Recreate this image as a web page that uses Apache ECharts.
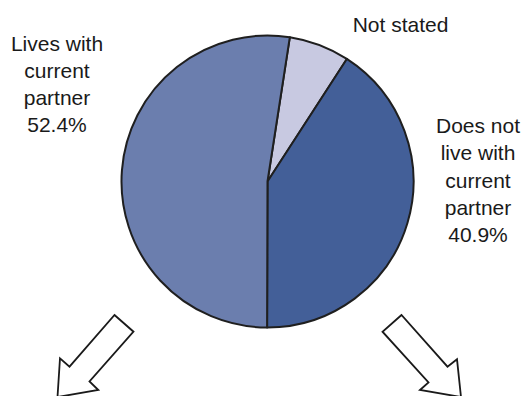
<!DOCTYPE html>
<html>
<head>
<meta charset="utf-8">
<script src="https://cdn.jsdelivr.net/npm/echarts@6/dist/echarts.min.js"></script>
<style>html,body{margin:0;padding:0;background:#fff;}#c{width:525px;height:396px;}</style>
</head>
<body>
<div id="c"></div>
<script>
const categories = ['Not stated', 'Does not live with current partner', 'Lives with current partner'];
const labelTexts = ['Not stated', 'Does not\nlive with\ncurrent\npartner', 'Lives with\ncurrent\npartner'];
const values = [6.7, 40.9, 52.4];
const showPercent = [false, true, true];
const colors = ['#c8c9e1', '#435f98', '#6b7eae'];

const labelPos = [
  {x: 400.5, y: 24},
  {x: 478, y: 180},
  {x: 57, y: 84}
];

const chart = echarts.init(document.getElementById('c'), null, {renderer: 'svg'});
const font = '"Liberation Sans", Arial, sans-serif';

function arrow(points) {
  return {
    type: 'polygon',
    shape: {points: points},
    style: {fill: '#fff', stroke: '#1a1a1a', lineWidth: 1.8, lineJoin: 'miter'}
  };
}

chart.setOption({
  animation: false,
  backgroundColor: '#fff',
  series: [{
    type: 'pie',
    center: [267.5, 181.5],
    radius: 146,
    startAngle: 81.2,
    clockwise: true,
    data: categories.map((c, i) => ({name: c, value: values[i], itemStyle: {color: colors[i]}})),
    itemStyle: {borderColor: '#1f1f1f', borderWidth: 2},
    label: {
      show: true,
      formatter: p => labelTexts[p.dataIndex] + (showPercent[p.dataIndex] ? '\n' + values[p.dataIndex].toFixed(1) + '%' : ''),
      fontFamily: font,
      fontSize: 21,
      lineHeight: 27.2,
      color: '#1a1a1a',
      align: 'center',
      overflow: 'none',
      width: 200
    },
    labelLine: {show: false},
    labelLayout: p => ({x: labelPos[p.dataIndex].x, y: labelPos[p.dataIndex].y, align: 'center', verticalAlign: 'middle'}),
    emphasis: {disabled: true}
  }],
  graphic: [
    arrow([[114.5, 315], [133.5, 331.7], [89.5, 381.5], [98.3, 390], [57.5, 397], [60, 358.3], [69.5, 366.7]]),
    arrow([[401.5, 315], [382.5, 331.7], [428.5, 382.5], [420, 390], [461, 397], [457, 359.3], [447.5, 366.7]])
  ]
});
</script>
</body>
</html>
